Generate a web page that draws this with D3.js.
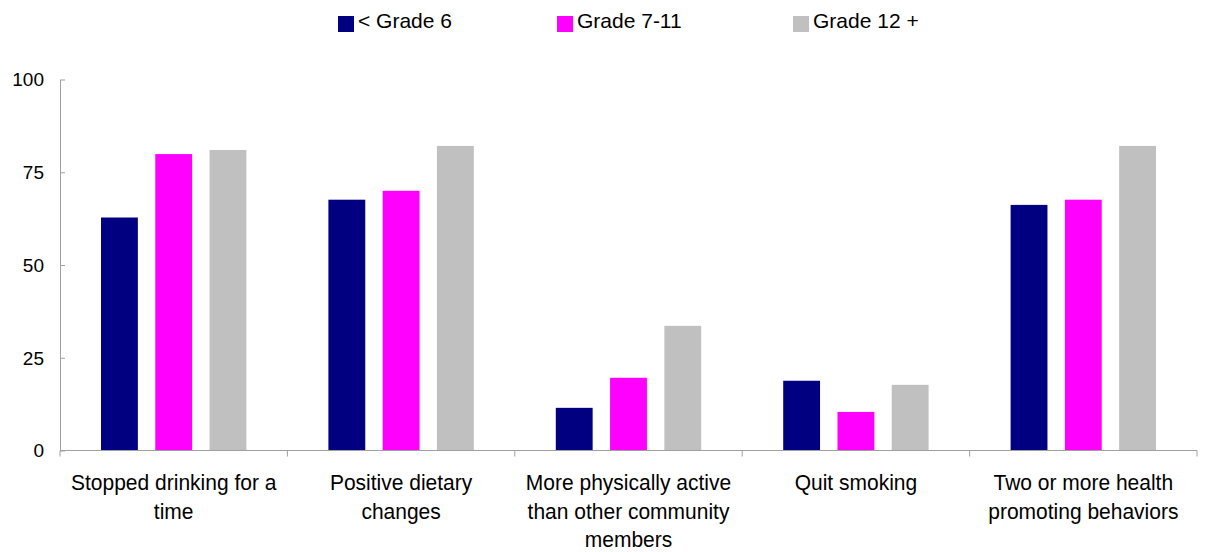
<!DOCTYPE html>
<html>
<head>
<meta charset="utf-8">
<script src="https://cdn.jsdelivr.net/npm/d3@7/dist/d3.min.js"></script>
<style>
  html, body { margin: 0; padding: 0; background: #fff; }
  svg { display: block; font-family: "Liberation Sans", Arial, sans-serif; }
</style>
</head>
<body>
<svg id="chart" width="1207" height="552"></svg>
<script>
// Share of respondents reporting each health behaviour, by education level
const categories = [
  ["Stopped drinking for a", "time"],
  ["Positive dietary", "changes"],
  ["More physically active", "than other community", "members"],
  ["Quit smoking"],
  ["Two or more health", "promoting behaviors"]
];
const seriesNames = ["< Grade 6", "Grade 7-11", "Grade 12 +"];
const seriesColors = ["#000080", "#FF00FF", "#C0C0C0"];
const grade6 = [62.8, 67.6, 11.5, 18.8, 66.2];
const grade7to11 = [79.9, 70.0, 19.6, 10.4, 67.6];
const grade12plus = [81.0, 82.1, 33.6, 17.7, 82.1];
const yTicks = [0, 25, 50, 75, 100];

const seriesValues = [grade6, grade7to11, grade12plus];
const catKeys = categories.map((c, i) => i);

const svg = d3.select("#chart");
const plotLeft = 60, plotRight = 1197, plotTop = 79.5, plotBottom = 450.5;
const axisColor = "#a0a0a0";

const x = d3.scaleBand().domain(catKeys).range([plotLeft, plotRight]).paddingInner(0).paddingOuter(0);
const xs = d3.scaleBand().domain(d3.range(seriesNames.length))
  .range([41, x.bandwidth() - 41]).paddingInner(0.321).paddingOuter(0);
const y = d3.scaleLinear().domain([0, 100]).range([plotBottom, plotTop]);

// bars
const groups = svg.append("g").selectAll("g")
  .data(catKeys).join("g")
  .attr("transform", d => `translate(${x(d)},0)`);
groups.selectAll("rect")
  .data(ci => seriesValues.map((vals, si) => ({ si, v: vals[ci] })))
  .join("rect")
  .attr("x", d => xs(d.si))
  .attr("width", xs.bandwidth())
  .attr("y", d => y(d.v))
  .attr("height", d => y(0) - y(d.v))
  .attr("fill", d => seriesColors[d.si]);

// y axis: ticks point into the plot
const yAxis = svg.append("g").attr("transform", `translate(${plotLeft},0)`)
  .call(d3.axisRight(y).tickValues(yTicks).tickSize(5).tickSizeOuter(0).tickFormat(d3.format("d")));
yAxis.select(".domain").attr("stroke", axisColor);
yAxis.selectAll(".tick line").attr("stroke", axisColor);
yAxis.selectAll(".tick text")
  .attr("x", -16).attr("text-anchor", "end").attr("dy", "0.34em")
  .attr("font-size", 19).attr("fill", "#000")
  .attr("font-family", "Liberation Sans, Arial, sans-serif");

// x axis with tick marks between categories
const xAxisG = svg.append("g");
xAxisG.append("line")
  .attr("x1", plotLeft).attr("x2", plotRight).attr("y1", plotBottom).attr("y2", plotBottom)
  .attr("stroke", axisColor);
const boundaries = catKeys.map(d => x(d)).concat([x(catKeys[catKeys.length - 1]) + x.bandwidth()]);
xAxisG.selectAll("line.tk").data(boundaries).join("line").attr("class", "tk")
  .attr("x1", d => d).attr("x2", d => d)
  .attr("y1", plotBottom).attr("y2", plotBottom + 6)
  .attr("stroke", axisColor);

// category labels (wrapped lines)
const labels = svg.append("g").selectAll("text")
  .data(catKeys).join("text")
  .attr("text-anchor", "middle")
  .attr("font-size", 21)
  .attr("fill", "#000")
  .attr("transform", d => `translate(${x(d) + x.bandwidth() / 2},490) scale(1,1.08)`);
labels.selectAll("tspan")
  .data(d => categories[d])
  .join("tspan")
  .attr("x", 0)
  .attr("y", (d, i) => i * 26.4)
  .text(d => d);

// legend
const legendX = [338, 557, 793];
const legend = svg.append("g").selectAll("g")
  .data(seriesNames).join("g")
  .attr("transform", (d, i) => `translate(${legendX[i]},0)`);
legend.append("rect")
  .attr("x", 0).attr("y", 16).attr("width", 16).attr("height", 16)
  .attr("fill", (d, i) => seriesColors[i]);
legend.append("text")
  .attr("x", 20).attr("y", 27.5)
  .attr("font-size", 21).attr("fill", "#000")
  .text(d => d);
</script>
</body>
</html>
